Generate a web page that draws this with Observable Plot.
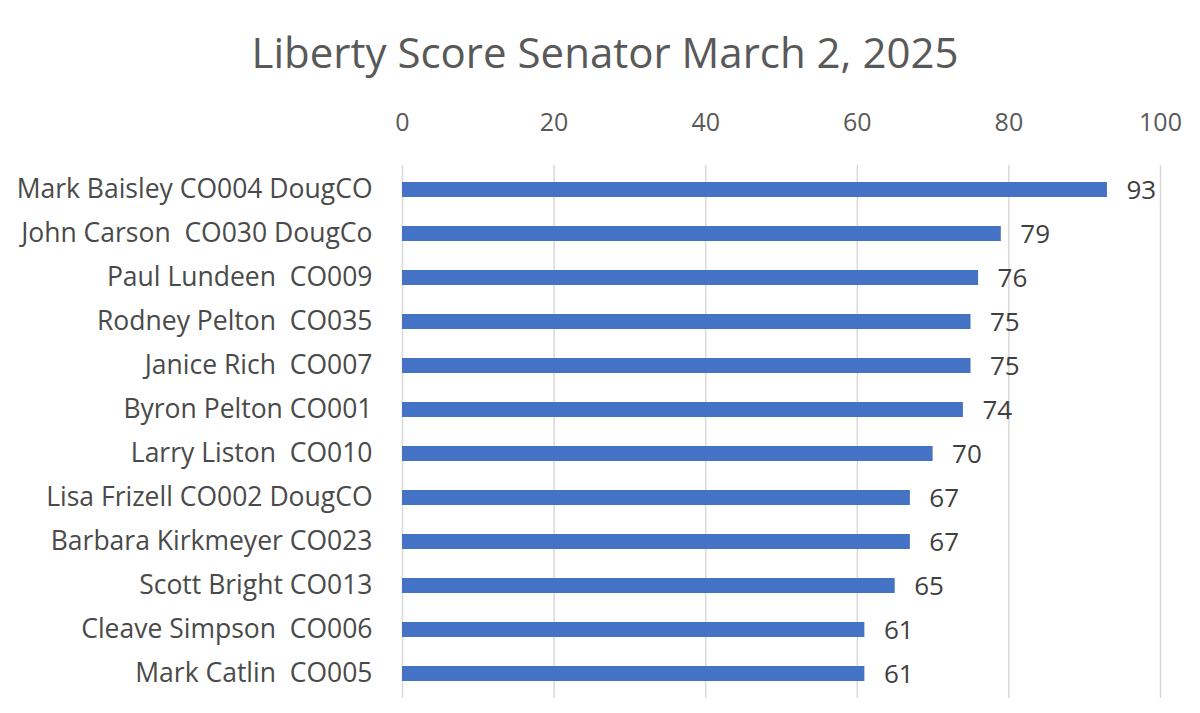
<!DOCTYPE html>
<html>
<head>
<meta charset="utf-8">
<script src="https://cdn.jsdelivr.net/npm/d3@7"></script>
<script src="https://cdn.jsdelivr.net/npm/@observablehq/plot@0.6"></script>
<style>
  html, body { margin: 0; padding: 0; background: #fff; }
  #title { font-family: "Open Sans", sans-serif; font-size: 42px; color: #595959; text-align: center; height: 100px; line-height: 104px; padding-left: 10px; box-sizing: border-box; }
  #chart svg { display: block; }
</style>
</head>
<body>
<div id="title">Liberty Score Senator March 2, 2025</div>
<div id="chart"></div>
<script>
const senators = [
  "Mark Baisley CO004 DougCO",
  "John Carson  CO030 DougCo",
  "Paul Lundeen  CO009",
  "Rodney Pelton  CO035",
  "Janice Rich  CO007",
  "Byron Pelton CO001",
  "Larry Liston  CO010",
  "Lisa Frizell CO002 DougCO",
  "Barbara Kirkmeyer CO023",
  "Scott Bright CO013",
  "Cleave Simpson  CO006",
  "Mark Catlin  CO005"
];
const scores = [93, 79, 76, 75, 75, 74, 70, 67, 67, 65, 61, 61];
const xTicks = [0, 20, 40, 60, 80, 100];

const data = senators.map((name, i) => ({name, score: scores[i]}));

const chart = Plot.plot({
  width: 1200,
  height: 613,
  marginTop: 65,
  marginBottom: 15,
  marginLeft: 402,
  marginRight: 40,
  style: {fontFamily: "'Open Sans', sans-serif", color: "#595959", background: "#fff"},
  x: {domain: [0, 100], ticks: xTicks, axis: null, label: null},
  y: {domain: senators, paddingInner: 0.66, paddingOuter: 0.33, axis: null, label: null},
  marks: [
    Plot.gridX(xTicks, {stroke: "#d9d9d9", strokeOpacity: 1, strokeWidth: 1.5}),
    Plot.axisX({anchor: "top", ticks: xTicks, tickSize: 0, tickPadding: 35, fontSize: 25, fill: "#595959", label: null}),
    Plot.axisY({anchor: "left", tickSize: 0, tickPadding: 30, fontSize: 26.5, fill: "#4a4a4a", label: null}),
    Plot.barX(data, {x: "score", y: "name", fill: "#4472C4"}),
    Plot.text(data, {x: "score", y: "name", text: d => String(d.score), textAnchor: "start", dx: 19, dy: 1, fontSize: 26, fill: "#404040"})
  ]
});
document.getElementById("chart").appendChild(chart);
</script>
</body>
</html>
